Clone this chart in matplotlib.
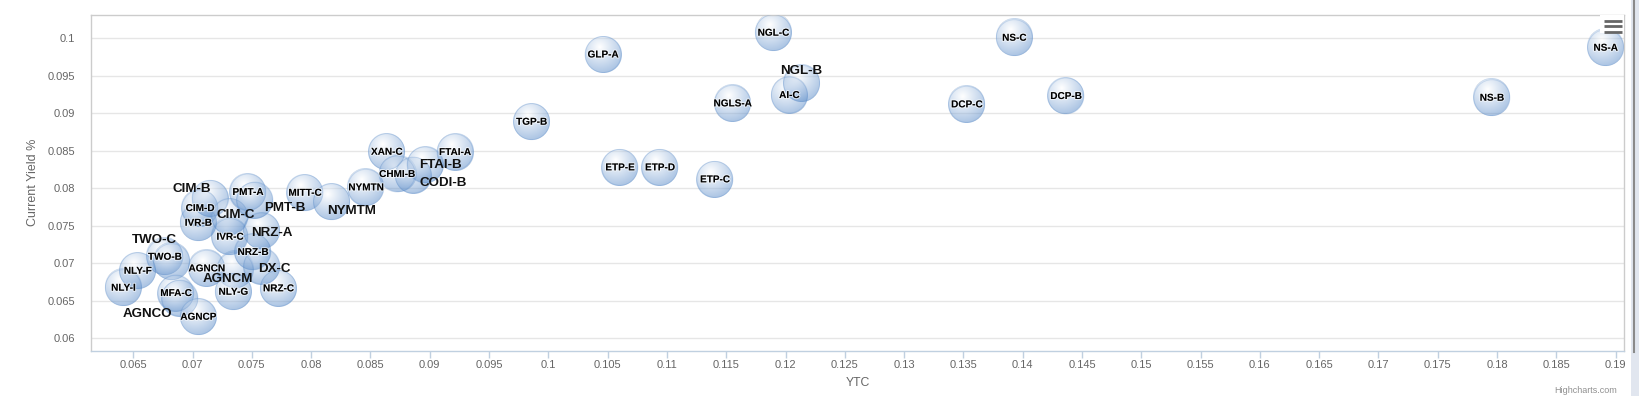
import numpy as np
import matplotlib
matplotlib.use("Agg")
import matplotlib.pyplot as plt
import matplotlib.patheffects as pe
from matplotlib.lines import Line2D
from matplotlib.patches import Rectangle

# ---------------- data ----------------
tickers = ['NLY-I', 'NLY-F', 'TWO-B', 'TWO-C', 'MFA-C', 'AGNCO', 'AGNCP', 'AGNCN',
           'AGNCM', 'NLY-G', 'NRZ-C', 'DX-C', 'NRZ-B', 'IVR-C', 'NRZ-A', 'IVR-B',
           'CIM-D', 'CIM-B', 'CIM-C', 'PMT-A', 'PMT-B', 'MITT-C', 'NYMTM', 'NYMTN',
           'XAN-C', 'CHMI-B', 'CODI-B', 'FTAI-B', 'FTAI-A', 'TGP-B', 'ETP-E', 'ETP-D',
           'GLP-A', 'ETP-C', 'NGLS-A', 'NGL-C', 'AI-C', 'NGL-B', 'DCP-C', 'NS-C',
           'DCP-B', 'NS-B', 'NS-A']
ytc = [0.06416, 0.06537, 0.06767, 0.06824, 0.06860, 0.06894, 0.07048, 0.07119,
       0.07358, 0.07343, 0.07723, 0.07585, 0.07509, 0.07315, 0.07583, 0.07048,
       0.07062, 0.07147, 0.07315, 0.07467, 0.07526, 0.07948, 0.08173, 0.08462,
       0.08637, 0.08724, 0.08859, 0.08960, 0.09213, 0.09859, 0.10604, 0.10941,
       0.10461, 0.11405, 0.11554, 0.11897, 0.12032, 0.12136, 0.13528, 0.13929,
       0.14365, 0.17957, 0.18916]
current_yield = [0.06675, 0.06901, 0.07088, 0.07021, 0.06604, 0.06537, 0.06288, 0.06933,
                 0.06911, 0.06621, 0.06667, 0.06964, 0.07151, 0.07355, 0.07431, 0.07541,
                 0.07737, 0.07867, 0.07621, 0.07951, 0.07844, 0.07941, 0.07821, 0.08013,
                 0.08488, 0.08191, 0.08177, 0.08311, 0.08484, 0.08888, 0.08280, 0.08280,
                 0.09785, 0.08120, 0.09133, 0.10075, 0.09244, 0.09400, 0.09120, 0.10008,
                 0.09231, 0.09208, 0.09875]

x_ticks = [0.065, 0.07, 0.075, 0.08, 0.085, 0.09, 0.095, 0.1, 0.105, 0.11, 0.115, 0.12,
           0.125, 0.13, 0.135, 0.14, 0.145, 0.15, 0.155, 0.16, 0.165, 0.17, 0.175,
           0.18, 0.185, 0.19]
x_tick_labels = ['0.065', '0.07', '0.075', '0.08', '0.085', '0.09', '0.095', '0.1',
                 '0.105', '0.11', '0.115', '0.12', '0.125', '0.13', '0.135', '0.14',
                 '0.145', '0.15', '0.155', '0.16', '0.165', '0.17', '0.175', '0.18',
                 '0.185', '0.19']
y_ticks = [0.06, 0.065, 0.07, 0.075, 0.08, 0.085, 0.09, 0.095, 0.1]
y_tick_labels = ['0.06', '0.065', '0.07', '0.075', '0.08', '0.085', '0.09', '0.095', '0.1']

x_title = 'YTC'
y_title = 'Current Yield %'

# labels drawn larger and displaced from their bubble (offset in pixels, y down)
big_label_offsets = {
    'CIM-B': (-18, -9), 'TWO-C': (-17, -22), 'AGNCO': (-33, 16), 'AGNCM': (-7, 9),
    'DX-C': (12, 3), 'NRZ-A': (10, 2), 'CIM-C': (6, -2), 'PMT-B': (30, 8),
    'NYMTM': (20, 9), 'FTAI-B': (15, 0), 'CODI-B': (30, 8), 'NGL-B': (0, -12),
}

# ---------------- style ----------------
W, H, DPI = 1639, 396, 100
BUBBLE_PX = 37
BLUE = np.array([88, 138, 200]) / 255.0
GRID = '#e6e6e6'
LABEL_GRAY = '#666666'

fig = plt.figure(figsize=(W / DPI, H / DPI), dpi=DPI)
fig.patch.set_facecolor('white')
ax_left, ax_right, ax_top, ax_bottom = 90.7, 1624.3, 14.7, 350.7
ax = fig.add_axes([ax_left / W, 1 - ax_bottom / H, (ax_right - ax_left) / W,
                   (ax_bottom - ax_top) / H])
XLIM = (0.06141, 0.19073)
YLIM = (0.05835, 0.10315)
ax.set_xlim(*XLIM)
ax.set_ylim(*YLIM)

ax.set_xticks(x_ticks)
ax.set_xticklabels(x_tick_labels)
ax.set_yticks(y_ticks)
ax.set_yticklabels(y_tick_labels)
ax.tick_params(axis='x', direction='out', length=5, width=1, color='#c0d0e0',
               pad=2, labelsize=8, labelcolor=LABEL_GRAY)
ax.tick_params(axis='y', length=0, pad=11, labelsize=8, labelcolor=LABEL_GRAY)
for lab in ax.get_xticklabels() + ax.get_yticklabels():
    lab.set_fontfamily('Liberation Sans')
ax.yaxis.grid(True, color=GRID, lw=1)
ax.set_axisbelow(True)
for side in ['left', 'top', 'right']:
    ax.spines[side].set_color('#cccccc')
    ax.spines[side].set_linewidth(1)
ax.spines['bottom'].set_color('#c0d0e0')
ax.spines['bottom'].set_linewidth(1)


def bubble_rgba(n, blue, ss=6):
    N = n * ss
    yy, xx = np.mgrid[0:N, 0:N]
    u = (xx + 0.5) / N
    v = (yy + 0.5) / N
    d = np.sqrt((u - 0.5) ** 2 + (v - 0.5) ** 2)
    inside = (d <= 0.5).astype(float)
    t = np.clip(np.sqrt((u - 0.4) ** 2 + (v - 0.3) ** 2) / 0.7, 0, 1)
    rgb = (1 - t)[..., None] * np.ones(3) + t[..., None] * blue
    rim = ((d > 0.5 - 1.0 / n) & (d <= 0.5)).astype(float)
    rgb = rgb * (1 - rim[..., None] * 0.3) + rim[..., None] * 0.3 * blue
    a = 0.5 * inside + 0.05 * rim
    prem = rgb * a[..., None]
    prem = prem.reshape(n, ss, n, ss, 3).mean(axis=(1, 3))
    a = a.reshape(n, ss, n, ss).mean(axis=(1, 3))
    out = np.zeros((n, n, 4))
    nz = a > 0
    out[nz, :3] = prem[nz] / a[nz, None]
    out[..., 3] = a
    return out


img = bubble_rgba(BUBBLE_PX, BLUE)
fig.canvas.draw()
inv = ax.transData.inverted()
p0 = inv.transform((0, 0))
p1 = inv.transform((BUBBLE_PX / 2, BUBBLE_PX / 2))
hw, hh = p1[0] - p0[0], p1[1] - p0[1]

for i, (xv, yv) in enumerate(zip(ytc, current_yield)):
    ax.imshow(img, extent=[xv - hw, xv + hw, yv - hh, yv + hh], origin='upper',
              interpolation='bilinear', zorder=2 + i * 0.01, aspect='auto')
ax.set_xlim(*XLIM)
ax.set_ylim(*YLIM)
ax.set_aspect('auto')

size_pt = (BUBBLE_PX - 1) * 72 / DPI
ax.scatter(ytc, current_yield, s=size_pt ** 2, facecolors='none',
           edgecolors=[(*BLUE, 0.22)], linewidths=0.6, zorder=3)

halo = [pe.withStroke(linewidth=1.6, foreground=(1, 1, 1, 0.55))]
for name, xv, yv in zip(tickers, ytc, current_yield):
    if name in big_label_offsets:
        dx, dy = big_label_offsets[name]
        ax.annotate(name, (xv, yv), xytext=(dx * 0.72, -dy * 0.72),
                    textcoords='offset points', ha='center', va='center',
                    fontsize=9.6, fontweight='bold', family='Liberation Sans',
                    color='#111111', zorder=6, annotation_clip=False)
    else:
        ax.annotate(name, (xv, yv), ha='center', va='center', fontsize=7.2,
                    fontweight='bold', family='Liberation Sans', color='black',
                    zorder=5, path_effects=halo)

# axis titles
fig.text(((ax_left + ax_right) / 2) / W, 1 - 383.3 / H, x_title, ha='center',
         va='center', fontsize=8.8, color=LABEL_GRAY, family='Liberation Sans')
fig.text(33 / W, 1 - ((ax_top + ax_bottom) / 2) / H, y_title, ha='center',
         va='center', rotation=90, fontsize=9, color=LABEL_GRAY,
         family='Liberation Sans')

# export menu button
fig.patches.append(Rectangle((1600 / W, 1 - 33 / H), 24 / W, 18 / H,
                             transform=fig.transFigure, facecolor='white',
                             edgecolor='none', zorder=10))
for yy in (20.7, 26.0, 31.5):
    fig.lines.append(Line2D([1604.3 / W, 1621.7 / W], [1 - yy / H, 1 - yy / H],
                            transform=fig.transFigure, color='#666666', lw=2.0,
                            solid_capstyle='butt', zorder=11))

# scrollbar strip at the right edge
fig.patches.append(Rectangle((1631 / W, 0), 8 / W, 1, transform=fig.transFigure,
                             facecolor='#e1e6ef', edgecolor='none', zorder=10))
fig.lines.append(Line2D([1633.5 / W, 1633.5 / W], [1 - 352 / H, 1],
                        transform=fig.transFigure, color='#8a8a8a', lw=1.5, zorder=11))

# credits
fig.text(1617 / W, 1 - 386 / H, 'Highcharts.com', ha='right', va='top',
         fontsize=6.5, color='#909090', family='Liberation Sans')

fig.savefig('out.png', dpi=DPI)
